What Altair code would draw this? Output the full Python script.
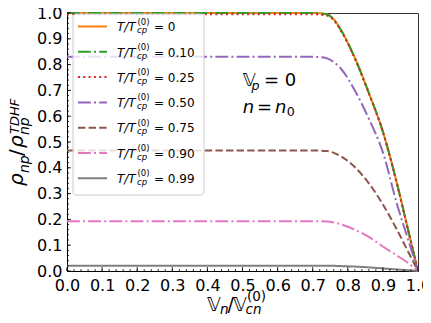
import altair as alt
import pandas as pd

# ---- data ----
x_vals = [0.0, 0.70, 0.74, 0.76, 0.78, 0.82, 0.86, 0.90, 0.94, 0.97, 1.0]
t000 = [1.0, 1.0, 0.995, 0.975, 0.935, 0.826, 0.69, 0.54, 0.34, 0.17, 0.0]
t010 = [1.0, 1.0, 0.995, 0.975, 0.935, 0.826, 0.69, 0.54, 0.34, 0.17, 0.0]
t025 = [0.995, 0.995, 0.99, 0.972, 0.932, 0.824, 0.688, 0.538, 0.338, 0.168, 0.0]
t050 = [0.83, 0.83, 0.825, 0.81, 0.785, 0.70, 0.59, 0.46, 0.26, 0.13, 0.0]
t075 = [0.467, 0.467, 0.465, 0.458, 0.445, 0.403, 0.34, 0.258, 0.16, 0.08, 0.0]
t090 = [0.193, 0.193, 0.192, 0.188, 0.181, 0.16, 0.132, 0.095, 0.06, 0.033, 0.0]
t099 = [0.02, 0.02, 0.02, 0.02, 0.019, 0.017, 0.014, 0.010, 0.006, 0.003, 0.0]

series_labels = ["0", "0.10", "0.25", "0.50", "0.75", "0.90", "0.99"]
series_values = [t000, t010, t025, t050, t075, t090, t099]
major_ticks = [0.0, 0.1, 0.2, 0.3, 0.4, 0.5, 0.6, 0.7, 0.8, 0.9, 1.0]
minor_ticks = [i / 50 for i in range(51)]

colors = ["#ff7f0e", "#2ca02c", "#d62728", "#9467bd", "#8c564b", "#e377c2", "#7f7f7f"]
dashes = [[1, 0], [12.8, 3.2, 2, 3.2], [2, 3.3], [12.8, 3.2, 2, 3.2], [7.4, 3.2], [12.8, 3.2, 2, 3.2], [1, 0]]

FONT = "DejaVu Sans"
PAD_L, PAD_T, PAD_R, PAD_B = 59, 5, 5, 43
OX, OY = 8 + PAD_L, 8 + PAD_T      # page position of plot origin
W, H = 351, 258
one = pd.DataFrame({"a": [0]})

X_AXIS = alt.Axis(values=major_ticks, format=".1f", title=None, ticks=False,
                  labelFontSize=16, labelFont=FONT, labelColor="black",
                  domainColor="black", grid=False, labelPadding=6,
                  labelFlush=False, labelOverlap=False)
Y_AXIS = alt.Axis(values=major_ticks, format=".1f", title=None, ticks=False,
                  labelFontSize=16, labelFont=FONT, labelColor="black",
                  domainColor="black", grid=False, labelPadding=5,
                  labelFlush=False, labelOverlap=False)
XS = alt.Scale(domain=[0, 1], nice=False)
YS = alt.Scale(domain=[0, 1], nice=False)

def X(f):
    return alt.X(f, type="quantitative", scale=XS, axis=X_AXIS)

def Y(f):
    return alt.Y(f, type="quantitative", scale=YS, axis=Y_AXIS)

layers = []
for i, (lab, vals) in enumerate(zip(series_labels, series_values)):
    df = pd.DataFrame({"x": x_vals, "y": vals})
    layers.append(
        alt.Chart(df).mark_line(color=colors[i], strokeDash=dashes[i], strokeWidth=2,
                                interpolate="monotone", clip=False).encode(x=X("x"), y=Y("y"))
    )

# ---- inward ticks ----
mt = pd.DataFrame({"v": minor_ticks})
Mt = pd.DataFrame({"v": major_ticks})
layers += [
    alt.Chart(mt).mark_rule(color="black", strokeWidth=0.8).encode(
        x=X("v"), y=alt.value(H), y2=alt.value(H - 2)),
    alt.Chart(mt).mark_rule(color="black", strokeWidth=0.8).encode(
        y=Y("v"), x=alt.value(0), x2=alt.value(2)),
    alt.Chart(Mt).mark_rule(color="black", strokeWidth=0.8).encode(
        x=X("v"), y=alt.value(H), y2=alt.value(H - 4)),
    alt.Chart(Mt).mark_rule(color="black", strokeWidth=0.8).encode(
        y=Y("v"), x=alt.value(0), x2=alt.value(4)),
]

def txt(s, px, py, size, italic=False, angle=None):
    kw = dict(text=s, font=FONT, fontSize=size, align="left", baseline="alphabetic", color="black")
    if italic:
        kw["fontStyle"] = "italic"
    if angle is not None:
        kw["angle"] = angle
    return alt.Chart(one).mark_text(**kw).encode(x=alt.value(px - OX), y=alt.value(py - OY))

# ---- legend ----
layers.append(
    alt.Chart(one).mark_rect(fill="white", fillOpacity=0.8, stroke="#cccccc", strokeWidth=1,
                             cornerRadius=3).encode(
        x=alt.value(73 - OX), x2=alt.value(204 - OX), y=alt.value(14 - OY), y2=alt.value(195 - OY))
)
row0 = 26.5
step = 25.3
for i, lab in enumerate(series_labels):
    ry = row0 + i * step
    layers.append(
        alt.Chart(one).mark_rule(color=colors[i], strokeDash=dashes[i], strokeWidth=2).encode(
            x=alt.value(78 - OX), x2=alt.value(107 - OX), y=alt.value(ry - OY))
    )
    layers += [
        txt("T/T", 117, ry + 4.7, 12, italic=True),
        txt("(0)", 137.5, ry - 2, 8.5),
        txt("cp", 137, ry + 6.7, 8.5, italic=True),
        txt("= " + lab, 154, ry + 4.7, 12),
    ]

# ---- annotation ----
layers += [
    txt("\U0001D54D", 242.7, 86, 18),
    txt("p", 251.5, 90, 12.6, italic=True),
    txt("= 0", 264, 86, 18),
    txt("n", 242.7, 113, 18, italic=True),
    txt("=", 257, 113, 18),
    txt("n", 275, 113, 18, italic=True),
    txt("0", 286.7, 115.5, 12.6),
]

# ---- x title ----
TB = 310.5
layers += [
    txt("\U0001D54D", 207, TB, 19),
    txt("n", 220, TB + 3, 13.5, italic=True),
    txt("/", 227.5, TB, 19),
    txt("\U0001D54D", 233, TB, 19),
    txt("cn", 245.5, TB + 3, 13.5, italic=True),
    txt("(0)", 247, TB - 9.5, 13.5),
]

# ---- y title, rotated ----
layers += [
    txt("\u03C1", 23, 186, 20, italic=True, angle=270),
    txt("np", 28.5, 173, 14, italic=True, angle=270),
    txt("/", 23, 156, 20, angle=270),
    txt("\u03C1", 23, 148, 20, italic=True, angle=270),
    txt("np", 28.5, 135, 14, italic=True, angle=270),
    txt("TDHF", 19, 134, 13, italic=True, angle=270),
]

chart = alt.layer(*layers).properties(
    width=W, height=H,
    padding={"left": PAD_L, "top": PAD_T, "right": PAD_R, "bottom": PAD_B},
    autosize=alt.AutoSizeParams(type="none"),
).configure_view(stroke="#333333", strokeWidth=1)

chart.save("out.html", embed_options={"renderer": "svg", "actions": False})
